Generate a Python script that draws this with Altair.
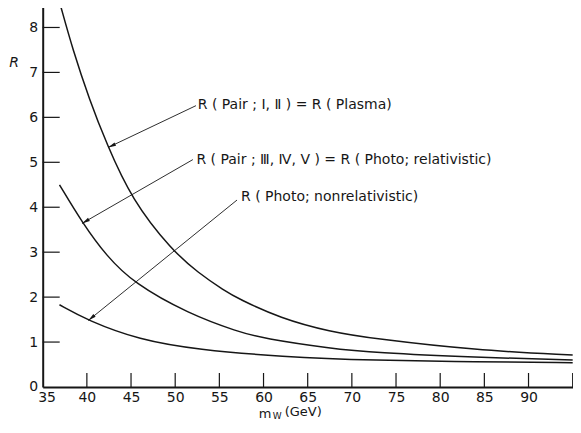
import math
import altair as alt
import pandas as pd

# ---------------- data ----------------
plasma_m = [37.0, 38.4, 40.3, 42.2, 45.1, 49.6, 52.6, 55.6, 57.1, 61.9, 67.5, 72.7, 83.9, 95.0]
plasma_R = [8.5, 7.51, 6.39, 5.43, 4.16, 3.05, 2.54, 2.14, 1.97, 1.53, 1.23, 1.07, 0.82, 0.71]

rel_m = [36.9, 39.5, 42.2, 45.3, 51.5, 57.1, 60.0, 67.5, 72.7, 83.9, 95.0]
rel_R = [4.5, 3.65, 2.92, 2.31, 1.63, 1.23, 1.08, 0.86, 0.76, 0.66, 0.60]

nonrel_m = [36.9, 40.1, 45.9, 52.6, 61.9, 72.7, 83.9, 95.0]
nonrel_R = [1.83, 1.48, 1.05, 0.83, 0.675, 0.59, 0.56, 0.54]

x_tick_values = [40, 45, 50, 55, 60, 65, 70, 75, 80, 85, 90, 95]
x_label_values = [35, 40, 45, 50, 55, 60, 65, 70, 75, 80, 85, 90]
y_tick_values = [1, 2, 3, 4, 5, 6, 7, 8]
y_label_values = [0, 1, 2, 3, 4, 5, 6, 7, 8]

ann_text = [
    "R ( Pair ; \u2160, \u2161 ) = R ( Plasma)",
    "R ( Pair ; \u2162, \u2163, \u2164 ) = R ( Photo; relativistic)",
    "R ( Photo;  nonrelativistic)",
]
ann_text_m = [52.55, 52.4, 57.45]
ann_text_R = [6.28, 5.06, 4.22]
ann_start_m = [52.35, 52.0, 57.0]
ann_start_R = [6.26, 5.06, 4.16]
ann_tip_m = [42.4, 39.45, 40.16]
ann_tip_R = [5.33, 3.64, 1.48]

# ---------------- layout ----------------
W, H = 530, 382
X_DOM = [35, 95]
Y_DOM = [0, 8.5]
FONT = "DejaVu Sans"
INK = "#161616"

rows = []
for name, ms, rs in [("plasma", plasma_m, plasma_R), ("rel", rel_m, rel_R), ("nonrel", nonrel_m, nonrel_R)]:
    for m, r in zip(ms, rs):
        rows.append({"series": name, "m": m, "R": r})
curves_df = pd.DataFrame(rows)

xs = alt.Scale(domain=X_DOM, nice=False, zero=False)
ys = alt.Scale(domain=Y_DOM, nice=False, zero=True)

x_axis = alt.Axis(
    values=x_label_values, ticks=False, grid=False, domainColor=INK, domainWidth=2,
    labelFont=FONT, labelFontSize=14, labelColor=INK, labelPadding=4,
    labelFlush=True, labelFlushOffset=5, title=None)
y_axis = alt.Axis(
    values=y_label_values, ticks=False, grid=False, domainColor=INK, domainWidth=2,
    labelFont=FONT, labelFontSize=14, labelColor=INK, labelPadding=5,
    title="R", titleAngle=0, titleAlign="left", titleBaseline="middle",
    titleX=-34, titleY=57, titleFont=FONT, titleFontSize=14,
    titleFontStyle="italic", titleFontWeight="normal", titleColor=INK)


def X(field):
    return alt.X(field, scale=xs, axis=x_axis)


def Y(field):
    return alt.Y(field, scale=ys, axis=y_axis)


curves = alt.Chart(curves_df).mark_line(
    interpolate="basis", color=INK, strokeWidth=1.5
).encode(x=X("m:Q"), y=Y("R:Q"), detail="series:N")

ytick_df = pd.DataFrame({"v": y_tick_values})
yticks = alt.Chart(ytick_df).mark_rule(color=INK, strokeWidth=1.2).encode(
    y=Y("v:Q"), x=alt.value(0), x2=alt.value(17),
)

xtick_df = pd.DataFrame({"v": x_tick_values})
xticks = alt.Chart(xtick_df).mark_rule(color=INK, strokeWidth=1.2).encode(
    x=X("v:Q"), y=alt.value(H), y2=alt.value(H - 14),
)

px_x = W / (X_DOM[1] - X_DOM[0])
px_y = H / (Y_DOM[1] - Y_DOM[0])
angles = []
for sm, sr, tm, tr in zip(ann_start_m, ann_start_R, ann_tip_m, ann_tip_R):
    dx = (tm - sm) * px_x
    dy = -(tr - sr) * px_y
    angles.append(math.degrees(math.atan2(dx, -dy)) % 360)

arrow_df = pd.DataFrame({
    "sm": ann_start_m, "sr": ann_start_R, "tm": ann_tip_m, "tr": ann_tip_R,
    "ang": angles, "txt": ann_text, "xm": ann_text_m, "xr": ann_text_R,
})

leaders = alt.Chart(arrow_df).mark_rule(color=INK, strokeWidth=0.9).encode(
    x=X("sm:Q"), y=Y("sr:Q"), x2="tm:Q", y2="tr:Q",
)

heads = alt.Chart(arrow_df).mark_point(
    shape="M0,0L0.45,2L-0.45,2Z", filled=True, size=64, color=INK, strokeWidth=0, opacity=1
).encode(
    x=X("tm:Q"), y=Y("tr:Q"), angle=alt.Angle("ang:Q", scale=None),
)

labels = alt.Chart(arrow_df).mark_text(
    align="left", baseline="middle", font=FONT, fontSize=14, color=INK
).encode(x=X("xm:Q"), y=Y("xr:Q"), text="txt:N")

one = alt.Data(values=[{}])
t_m = alt.Chart(one).mark_text(align="left", baseline="middle", font=FONT, fontSize=13, color=INK).encode(
    x=alt.value(216), y=alt.value(409), text=alt.value("m"))
t_w = alt.Chart(one).mark_text(align="left", baseline="middle", font=FONT, fontSize=9, color=INK).encode(
    x=alt.value(230), y=alt.value(411.5), text=alt.value("W"))
t_g = alt.Chart(one).mark_text(align="left", baseline="middle", font=FONT, fontSize=13, color=INK).encode(
    x=alt.value(242), y=alt.value(407), text=alt.value("(GeV)"))

chart = alt.layer(curves, yticks, xticks, leaders, heads, labels, t_m, t_w, t_g).properties(
    width=W, height=H,
    autosize=alt.AutoSizeParams(type="none"),
    padding={"left": 34.7, "top": -3, "right": 0, "bottom": 34},
    background="white",
).configure_view(stroke=None)

chart.save("out.html", embed_options={"renderer": "svg", "actions": False})
